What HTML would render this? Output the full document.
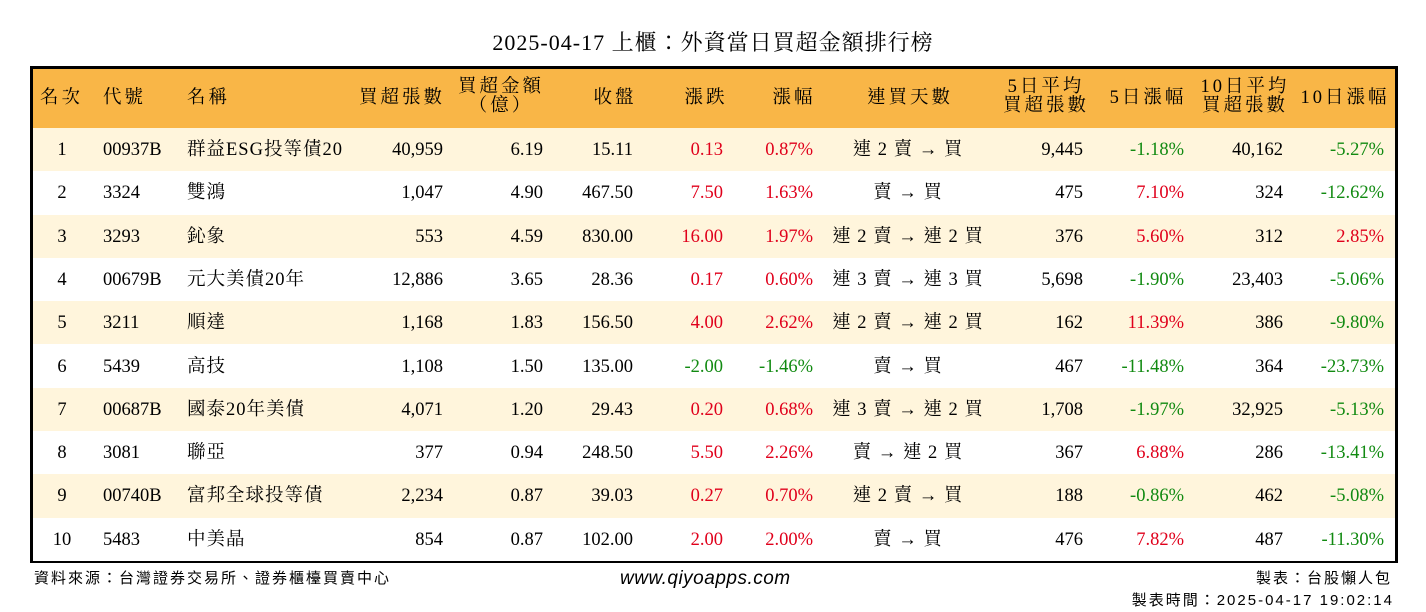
<!DOCTYPE html>
<html><head><meta charset="utf-8"><style>
body{margin:0;width:1426px;height:612px;background:#fff;position:relative;overflow:hidden;font-family:"Liberation Serif","Noto Serif CJK TC","Noto Serif CJK SC",serif;}
.t{position:absolute;white-space:nowrap;font-size:18.5px;line-height:20px;color:#000}
#box{position:absolute;left:30px;top:66px;width:1362px;height:491px;border:3px solid #000;}
#hdr{position:absolute;left:0;top:0;width:1362px;height:59px;background:#F9B647;border-bottom:3px solid #000}
.row{position:absolute;left:0;width:1362px;height:43.3px}
.ft{position:absolute;white-space:nowrap;font-family:"Liberation Sans","Noto Sans CJK TC",sans-serif;font-size:15px;color:#000;letter-spacing:2px}
</style></head><body>
<div class="t" style="left:0;width:1426px;text-align:center;top:30px;font-size:22px;line-height:26px;letter-spacing:1px">2025-04-17 上櫃：外資當日買超金額排行榜</div>
<div id="box"><div id="hdr"></div></div>
<div class="ft" style="left:34px;top:567px">資料來源：台灣證券交易所、證券櫃檯買賣中心</div>
<div class="ft" style="left:620px;top:568px;font-size:19px;font-style:italic;letter-spacing:0.5px">www.qiyoapps.com</div>
<div class="ft" style="right:34px;top:567px">製表：台股懶人包</div>
<div class="ft" style="right:32px;top:589px">製表時間：2025-04-17 19:02:14</div>
<script>
const ranks=["1","2","3","4","5","6","7","8","9","10"];
const codes=["00937B","3324","3293","00679B","3211","5439","00687B","3081","00740B","5483"];
const names=["群益ESG投等債20","雙鴻","鈊象","元大美債20年","順達","高技","國泰20年美債","聯亞","富邦全球投等債","中美晶"];
const netLots=["40,959","1,047","553","12,886","1,168","1,108","4,071","377","2,234","854"];
const netAmt=["6.19","4.90","4.59","3.65","1.83","1.50","1.20","0.94","0.87","0.87"];
const closes=["15.11","467.50","830.00","28.36","156.50","135.00","29.43","248.50","39.03","102.00"];
const changes=["0.13","7.50","16.00","0.17","4.00","-2.00","0.20","5.50","0.27","2.00"];
const pcts=["0.87%","1.63%","1.97%","0.60%","2.62%","-1.46%","0.68%","2.26%","0.70%","2.00%"];
const streaks=["連 2 賣 → 買","賣 → 買","連 2 賣 → 連 2 買","連 3 賣 → 連 3 買","連 2 賣 → 連 2 買","賣 → 買","連 3 賣 → 連 2 買","賣 → 連 2 買","連 2 賣 → 買","賣 → 買"];
const avg5=["9,445","475","376","5,698","162","467","1,708","367","188","476"];
const pct5=["-1.18%","7.10%","5.60%","-1.90%","11.39%","-11.48%","-1.97%","6.88%","-0.86%","7.82%"];
const avg10=["40,162","324","312","23,403","386","364","32,925","286","462","487"];
const pct10=["-5.27%","-12.62%","2.85%","-5.06%","-9.80%","-23.73%","-5.13%","-13.41%","-5.08%","-11.30%"];
// column: [data array, align, anchor x, colored, name, letterSpacing]
const cols=[[ranks,"c",62,false,"rank",0],[codes,"l",103,false,"code",0],[names,"l",187,false,"name",1],[netLots,"r",443,false,"net-lots",0],[netAmt,"r",543,false,"net-amount",0],[closes,"r",633,false,"close",0],[changes,"r",723,true,"change",0],[pcts,"r",813,true,"change-pct",0],[streaks,"c",908,false,"streak",1],[avg5,"r",1083,false,"avg5-lots",0],[pct5,"r",1184,true,"pct5",0],[avg10,"r",1283,false,"avg10-lots",0],[pct10,"r",1384,true,"pct10",0]];
const heads=[["名次","l",40],["代號","l",103],["名稱","l",187],["買超張數","r",445],["買超金額\n（億）","c",501],["收盤","c",615],["漲跌","c",706],["漲幅","c",794],["連買天數","c",910],["5日平均\n買超張數","c",1046],["5日漲幅","c",1148],["10日平均\n買超張數","c",1245],["10日漲幅","c",1345]];
function place(el,align,x,y){el.style.top=y+"px";
 if(align==="l")el.style.left=x+"px";
 else if(align==="r"){el.style.left=(x-300)+"px";el.style.width="300px";el.style.textAlign="right";}
 else{el.style.left=(x-150)+"px";el.style.width="300px";el.style.textAlign="center";}}
const box=document.getElementById('box');
heads.forEach(h=>{const d=document.createElement('div');d.className='t';
 
 
 const two=h[0].includes('\n');d.innerHTML=h[0].replace('\n','<br>');
 if(two){d.style.lineHeight="19px";}
 place(d,h[1],h[2],two?78:88);d.style.letterSpacing="3px";document.body.appendChild(d);});
const top0=128,rh=43.3;
ranks.forEach((r,i)=>{const row=document.createElement('div');row.className='row';
 
 
 row.style.top=(top0-66-3+i*rh)+"px";row.style.background=i%2===0?"#FFF5DC":"#fff";box.appendChild(row);
 cols.forEach(c=>{const v=c[0][i];const d=document.createElement('div');d.className='t';
  
  
  d.textContent=v;
  if(c[5])d.style.letterSpacing=c[5]+"px";
  if(c[3])d.style.color=v.startsWith('-')?"#118a11":"#e0001b";
  place(d,c[1],c[2],top0+i*rh+12);document.body.appendChild(d);});
});
</script>
</body></html>
